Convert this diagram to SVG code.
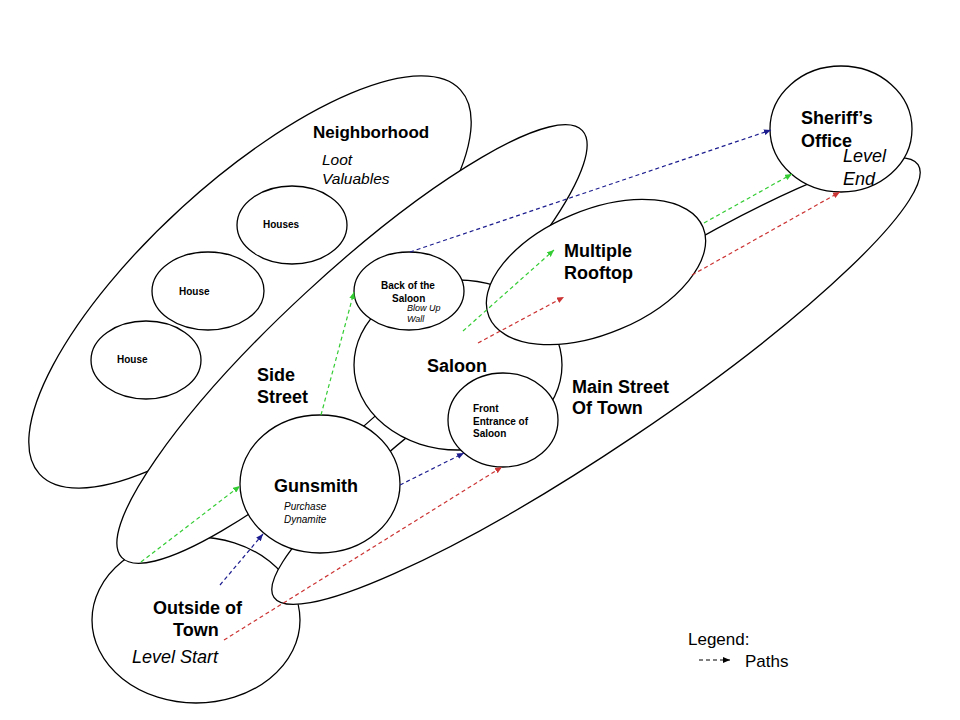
<svg xmlns="http://www.w3.org/2000/svg" width="960" height="720" viewBox="0 0 960 720">
<style>
.s{fill:#fff;stroke:#000;stroke-width:1.3}
.t{font-family:"Liberation Sans",Arial,sans-serif;fill:#000}
.b{font-weight:bold}
.i{font-style:italic}
.p{fill:none;stroke-width:1.2;stroke-dasharray:4 3}
.g{stroke:#33cc33}
.u{stroke:#1c1c8f}
.r{stroke:#cc3333}
.k{stroke:#000}
</style>
<defs>
<marker id="ag" markerUnits="userSpaceOnUse" markerWidth="8" markerHeight="6" refX="7" refY="3" orient="auto"><path d="M0,0 L7,3 L0,6 z" fill="#33cc33"/></marker>
<marker id="au" markerUnits="userSpaceOnUse" markerWidth="8" markerHeight="6" refX="7" refY="3" orient="auto"><path d="M0,0 L7,3 L0,6 z" fill="#1c1c8f"/></marker>
<marker id="ar" markerUnits="userSpaceOnUse" markerWidth="8" markerHeight="6" refX="7" refY="3" orient="auto"><path d="M0,0 L7,3 L0,6 z" fill="#cc3333"/></marker>
<marker id="ak" markerUnits="userSpaceOnUse" markerWidth="8" markerHeight="6" refX="7" refY="3" orient="auto"><path d="M0,0 L7,3 L0,6 z" fill="#000"/></marker>
</defs>
<rect width="960" height="720" fill="#fff"/>
<g id="neighborhood">
<ellipse class="s" cx="250" cy="282" rx="285" ry="101" transform="rotate(-42.4 250 282)"/>
<text class="t b" x="313" y="138" font-size="17">Neighborhood</text>
<text class="t i" x="322" y="165" font-size="15.5">Loot</text>
<text class="t i" x="322" y="184" font-size="15.5">Valuables</text>
</g>
<g id="houses">
<ellipse class="s" cx="292" cy="225" rx="55" ry="39"/>
<text class="t b" x="263" y="228" font-size="10">Houses</text>
</g>
<g id="house2">
<ellipse class="s" cx="208" cy="291" rx="56" ry="39"/>
<text class="t b" x="179" y="295" font-size="10">House</text>
</g>
<g id="house1">
<ellipse class="s" cx="146" cy="360" rx="55" ry="39"/>
<text class="t b" x="117" y="363" font-size="10">House</text>
</g>
<g id="outside-of-town">
<ellipse class="s" cx="196" cy="620" rx="104" ry="83"/>
<text class="t b" x="153" y="614" font-size="18">Outside of</text>
<text class="t b" x="173" y="636" font-size="18">Town</text>
<text class="t i" x="132" y="663" font-size="18">Level Start</text>
</g>
<g id="side-street">
<ellipse class="s" cx="352" cy="344" rx="314" ry="69" transform="rotate(-42.8 352 344)"/>
<text class="t b" x="257" y="381" font-size="18">Side</text>
<text class="t b" x="257" y="403" font-size="18">Street</text>
</g>
<g id="main-street">
<ellipse class="s" cx="596" cy="381" rx="388" ry="67" transform="rotate(-33.9 596 381)"/>
<text class="t b" x="572" y="393" font-size="18">Main Street</text>
<text class="t b" x="572" y="414" font-size="18">Of Town</text>
</g>
<g id="saloon">
<ellipse class="s" cx="458" cy="365" rx="104" ry="85"/>
<text class="t b" x="427" y="372" font-size="18">Saloon</text>
</g>
<g id="back-of-saloon">
<ellipse class="s" cx="409" cy="291" rx="55" ry="39"/>
<text class="t b" x="381" y="289" font-size="10">Back of the</text>
<text class="t b" x="392" y="302" font-size="10">Saloon</text>
<text class="t i" x="407" y="311" font-size="9" fill="#222">Blow Up</text>
<text class="t i" x="407" y="322" font-size="9" fill="#222">Wall</text>
</g>
<g id="front-entrance">
<ellipse class="s" cx="503" cy="420" rx="55" ry="47"/>
<text class="t b" x="473" y="412" font-size="10">Front</text>
<text class="t b" x="473" y="424.5" font-size="10">Entrance of</text>
<text class="t b" x="473" y="437" font-size="10">Saloon</text>
</g>
<g id="gunsmith">
<ellipse class="s" cx="320" cy="484" rx="80" ry="69"/>
<text class="t b" x="274" y="492" font-size="18">Gunsmith</text>
<text class="t i" x="284" y="510" font-size="10">Purchase</text>
<text class="t i" x="284" y="523" font-size="10">Dynamite</text>
</g>
<g id="multiple-rooftop">
<ellipse class="s" cx="596" cy="272" rx="116" ry="62" transform="rotate(-22.7 596 272)"/>
<text class="t b" x="564" y="257" font-size="18">Multiple</text>
<text class="t b" x="564" y="279" font-size="18">Rooftop</text>
</g>
<g id="sheriffs-office">
<ellipse class="s" cx="841" cy="129" rx="71" ry="63"/>
<text class="t b" x="801" y="124" font-size="18">Sheriff’s</text>
<text class="t b" x="801" y="147" font-size="18">Office</text>
<text class="t i" x="843" y="162" font-size="18">Level</text>
<text class="t i" x="843" y="185" font-size="18">End</text>
</g>
<g id="connectors">
<line class="p g" x1="141" y1="562" x2="240" y2="486" marker-end="url(#ag)"/>
<line class="p g" x1="321" y1="415" x2="354" y2="292" marker-end="url(#ag)"/>
<line class="p g" x1="463" y1="331" x2="554" y2="250" marker-end="url(#ag)"/>
<line class="p g" x1="704" y1="223" x2="792" y2="174" marker-end="url(#ag)"/>
<line class="p u" x1="220" y1="585" x2="263" y2="534" marker-end="url(#au)"/>
<line class="p u" x1="400" y1="485" x2="464" y2="453" marker-end="url(#au)"/>
<line class="p u" x1="410" y1="252" x2="771" y2="130" marker-end="url(#au)"/>
<line class="p r" x1="224" y1="640" x2="502" y2="467" marker-end="url(#ar)"/>
<line class="p r" x1="478" y1="343" x2="564" y2="297" marker-end="url(#ar)"/>
<line class="p r" x1="692" y1="275" x2="840" y2="192" marker-end="url(#ar)"/>
</g>
<g id="legend">
<text class="t" x="688" y="645" font-size="17">Legend:</text>
<line class="p k" x1="699" y1="660" x2="730" y2="660" marker-end="url(#ak)"/>
<text class="t" x="745" y="667" font-size="17">Paths</text>
</g>
</svg>
